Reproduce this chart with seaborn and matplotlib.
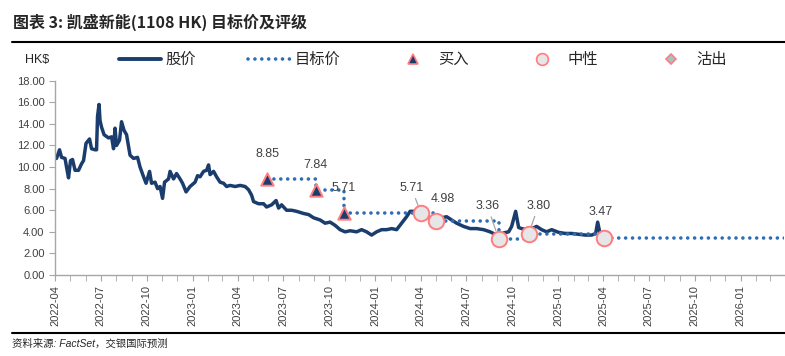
import pandas as pd
import matplotlib.pyplot as plt
import matplotlib.dates as mdates
from matplotlib.lines import Line2D
import seaborn as sns

# 股价 (HK$)
price_dates = [
    '2022-04-01', '2022-04-04', '2022-04-10', '2022-04-14', '2022-04-21', '2022-04-24',
    '2022-04-28', '2022-05-02', '2022-05-06', '2022-05-11', '2022-05-18', '2022-05-24',
    '2022-05-28', '2022-06-02', '2022-06-09', '2022-06-13', '2022-06-20', '2022-06-23',
    '2022-06-25', '2022-06-28', '2022-06-30', '2022-07-03', '2022-07-08', '2022-07-17',
    '2022-07-23', '2022-07-27', '2022-07-30', '2022-08-02', '2022-08-08', '2022-08-12',
    '2022-08-17', '2022-08-22', '2022-08-29', '2022-09-05', '2022-09-13', '2022-09-18',
    '2022-09-25', '2022-09-30', '2022-10-07', '2022-10-11', '2022-10-18', '2022-10-23',
    '2022-10-28', '2022-11-02', '2022-11-06', '2022-11-14', '2022-11-17', '2022-11-24',
    '2022-11-30', '2022-12-07', '2022-12-12', '2022-12-19', '2022-12-27', '2023-01-06',
    '2023-01-11', '2023-01-16', '2023-01-23', '2023-01-29', '2023-02-02', '2023-02-05',
    '2023-02-12', '2023-02-18', '2023-02-25', '2023-03-04', '2023-03-10', '2023-03-17',
    '2023-03-27', '2023-04-06', '2023-04-16', '2023-04-23', '2023-04-29', '2023-05-03',
    '2023-05-13', '2023-05-23', '2023-05-29', '2023-06-08', '2023-06-17', '2023-06-22',
    '2023-06-28', '2023-07-08', '2023-07-18', '2023-07-28', '2023-08-11', '2023-08-21',
    '2023-08-31', '2023-09-13', '2023-09-23', '2023-10-03', '2023-10-13', '2023-10-23',
    '2023-11-02', '2023-11-12', '2023-11-25', '2023-12-05', '2023-12-15', '2023-12-25',
    '2024-01-04', '2024-01-14', '2024-01-24', '2024-02-03', '2024-02-13', '2024-02-23',
    '2024-03-04', '2024-03-11', '2024-03-21', '2024-03-31', '2024-04-10', '2024-04-20',
    '2024-04-30', '2024-05-13', '2024-05-23', '2024-06-02', '2024-06-12', '2024-06-26',
    '2024-07-09', '2024-07-22', '2024-08-05', '2024-08-18', '2024-08-31', '2024-09-07',
    '2024-09-14', '2024-09-24', '2024-09-30', '2024-10-08', '2024-10-14', '2024-10-20',
    '2024-10-30', '2024-11-09', '2024-11-19', '2024-11-29', '2024-12-09', '2024-12-19',
    '2025-01-02', '2025-01-15', '2025-01-28', '2025-02-11', '2025-02-24', '2025-03-09',
    '2025-03-17', '2025-03-21', '2025-03-25', '2025-03-31',
]
price_values = [
    10.9, 10.8, 11.6, 10.9, 10.8, 10.0,
    9.0, 10.6, 10.7, 9.7, 9.7, 10.3,
    10.6, 12.2, 12.6, 11.7, 11.6, 11.6,
    14.7, 15.8, 14.3, 13.7, 13.0, 12.7,
    12.8, 11.7, 13.6, 12.0, 12.5, 14.2,
    13.4, 13.0, 11.1, 10.8, 10.9, 10.0,
    9.1, 8.5, 9.6, 8.5, 8.6, 8.0,
    8.2, 7.1, 8.6, 8.9, 9.6, 8.9,
    9.4, 8.9, 8.5, 7.7, 8.2, 8.6,
    9.2, 9.1, 9.6, 9.7, 10.2, 9.3,
    9.6, 9.1, 8.6, 8.5, 8.2, 8.3,
    8.2, 8.3, 8.2, 7.9, 7.4, 6.8,
    6.6, 6.6, 6.3, 6.5, 6.9, 6.2,
    6.5, 6.0, 6.0, 5.9, 5.7, 5.6,
    5.3, 5.1, 4.8, 4.9, 4.6, 4.2,
    4.0, 4.1, 4.0, 4.2, 4.0, 3.7,
    4.0, 4.2, 4.2, 4.3, 4.2, 4.8,
    5.4, 5.9, 5.9, 5.7, 5.6, 5.3,
    4.9, 5.3, 5.4, 5.1, 4.8, 4.5,
    4.3, 4.3, 4.2, 4.0, 3.7, 3.4,
    3.9, 4.0, 4.5, 5.9, 4.4, 4.3,
    4.2, 4.3, 4.5, 4.2, 4.0, 4.2,
    3.95, 3.85, 3.85, 3.77, 3.7, 3.7,
    3.85, 4.9, 4.0, 3.55,
]

# 评级及目标价
rating_dates = ['2023-05-30', '2023-09-04', '2023-10-30', '2024-04-02',
                '2024-05-02', '2024-09-04', '2024-11-03', '2025-04-02']
target_prices = [8.85, 7.84, 5.71, 5.71, 4.98, 3.36, 3.80, 3.47]
ratings = ['买入', '买入', '买入', '中性', '中性', '中性', '中性', '中性']
target_end = '2026-04-01'

# label offsets (points) and whether a leader line is drawn
label_offsets = [(0, 14), (0, 14), (0, 14), (-7, 14), (5, 12), (-8, 19), (7, 16), (-2, 14)]
leader = [False, False, False, True, False, True, True, False]

NAVY = '#1B3D6D'
BLUE = '#2E6DB4'
PINK = '#FF7C80'
DOTS = (0, (0.01, 1.9))

price_df = pd.DataFrame({'date': pd.to_datetime(price_dates), 'price': price_values})
target_df = pd.DataFrame({
    'date': pd.to_datetime(rating_dates + [target_end]),
    'target': target_prices + [target_prices[-1]],
})
rating_df = pd.DataFrame({'date': pd.to_datetime(rating_dates),
                          'target': target_prices, 'rating': ratings})

sns.set_style('white')
plt.rcParams['font.family'] = ['Liberation Sans', 'Noto Sans CJK SC', 'DejaVu Sans']

fig = plt.figure(figsize=(7.85, 3.56), dpi=100)
ax = fig.add_axes([0.0701, 0.2275, 0.9289, 0.5458])

sns.lineplot(data=price_df, x='date', y='price', ax=ax, color=NAVY, linewidth=2.5)
sns.lineplot(data=target_df, x='date', y='target', ax=ax, color=BLUE, linewidth=2.6,
             drawstyle='steps-post', linestyle=DOTS, dash_capstyle='round')

buy = rating_df[rating_df['rating'] == '买入']
neutral = rating_df[rating_df['rating'] == '中性']
sns.scatterplot(data=buy, x='date', y='target', ax=ax, marker='^', s=80,
                color=NAVY, edgecolor=PINK, linewidth=1.4, zorder=5)
sns.scatterplot(data=neutral, x='date', y='target', ax=ax, marker='o', s=125,
                color='#E6E6E6', edgecolor=PINK, linewidth=1.4, zorder=5)

for (d, v), off, ld in zip(zip(rating_df['date'], rating_df['target']), label_offsets, leader):
    arrow = dict(arrowstyle='-', color='#A6A6A6', lw=0.9, shrinkA=1, shrinkB=6) if ld else None
    ax.annotate(f'{v:.2f}', xy=(d, v), xytext=off, textcoords='offset points',
                ha='center', va='bottom', fontsize=9, color='#404040',
                arrowprops=arrow, zorder=6)

ax.set_ylim(0, 18)
ax.set_yticks(range(0, 19, 2))
ax.yaxis.set_major_formatter(plt.FuncFormatter(lambda v, p: f'{v:.2f}'))
ax.set_xlim(pd.Timestamp('2022-04-01'), pd.Timestamp('2026-03-29'))
ax.xaxis.set_major_locator(mdates.MonthLocator(bymonth=[1, 4, 7, 10]))
ax.xaxis.set_minor_locator(mdates.MonthLocator())
ax.xaxis.set_major_formatter(mdates.DateFormatter('%Y-%m'))
ax.set_xlabel('')
ax.set_ylabel('')
ax.tick_params(axis='x', which='both', direction='out', length=4, color='#A6A6A6',
               rotation=90, labelsize=8, labelcolor='#404040', bottom=True)
ax.tick_params(axis='y', direction='out', length=4, color='#A6A6A6',
               labelsize=8, labelcolor='#404040', left=True)
sns.despine(ax=ax)
for side in ['left', 'bottom']:
    ax.spines[side].set_color('#A6A6A6')
    ax.spines[side].set_linewidth(1.0)

# legend
handles = [
    Line2D([], [], color=NAVY, linewidth=2.8),
    Line2D([], [], color=BLUE, linewidth=2.6, linestyle=DOTS, dash_capstyle='round'),
    Line2D([], [], linestyle='none', marker='^', markersize=7, color=NAVY,
           markeredgecolor=PINK, markeredgewidth=1.2),
    Line2D([], [], linestyle='none', marker='o', markersize=8.5, color='#E6E6E6',
           markeredgecolor=PINK, markeredgewidth=1.2),
    Line2D([], [], linestyle='none', marker='D', markersize=5.5, color='#9FC5C8',
           markeredgecolor=PINK, markeredgewidth=1.2),
]
fig.legend(handles, ['股价', '目标价', '买入', '中性', '沽出'], ncol=5,
           loc='center left', bbox_to_anchor=(0.152, 0.831), frameon=False,
           fontsize=11, handlelength=2.7, handletextpad=0.3, columnspacing=3.45,
           borderpad=0, borderaxespad=0)

fig.text(0.032, 0.831, 'HK$', fontsize=9, va='center', color='#262626')
fig.text(0.016, 0.938, '图表 3: 凯盛新能(1108 HK) 目标价及评级', fontsize=11.5,
         fontweight='bold', va='center', family=['Noto Sans CJK SC', 'DejaVu Sans'])
fig.add_artist(Line2D([0.015, 1.0], [0.882, 0.882], color='black', lw=1.5,
                      transform=fig.transFigure))
fig.add_artist(Line2D([0.015, 1.0], [0.0646, 0.0646], color='black', lw=1.5,
                      transform=fig.transFigure))
fig.text(0.015, 0.034, '资料来源: FactSet，交银国际预测', fontsize=7.5,
         style='italic', va='center', color='#262626')

fig.savefig('out.png', dpi=100)
